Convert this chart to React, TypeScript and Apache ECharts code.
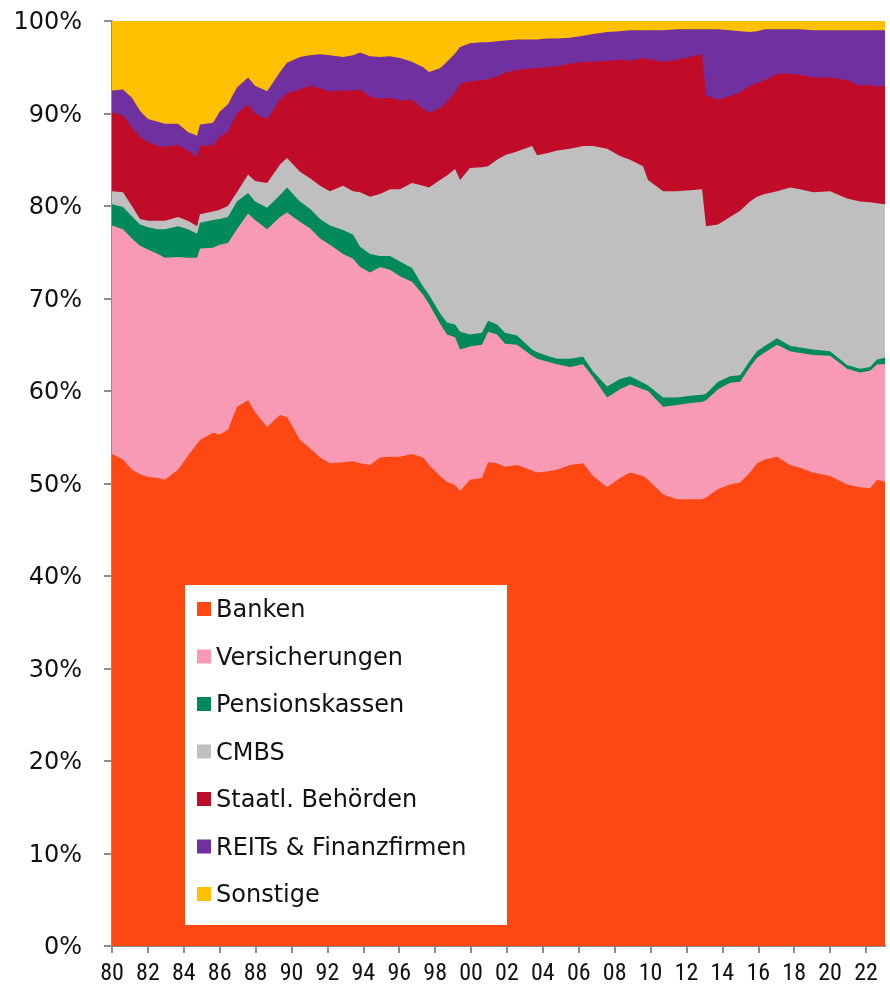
import React, { useEffect, useRef } from "react";
import * as echarts from "echarts";

// x positions (decimal years)
const years = [
  1980.0, 1980.61, 1981.11, 1981.56, 1982.0, 1982.56, 1982.95, 1983.68, 1984.23, 1984.74,
  1984.9, 1985.63, 1986.0, 1986.46, 1986.96, 1987.58, 1987.97, 1988.64, 1989.36, 1989.75,
  1990.47, 1991.03, 1991.59, 1992.14, 1992.87, 1993.43, 1993.82, 1994.37, 1994.93, 1995.49,
  1996.04, 1996.71, 1997.33, 1997.66, 1998.27, 1998.66, 1999.11, 1999.39, 1999.94, 2000.61,
  2000.95, 2001.45, 2001.89, 2002.56, 2003.4, 2003.68, 2004.23, 2004.79, 2005.52, 2006.24,
  2006.8, 2007.58, 2008.3, 2008.86, 2009.58, 2009.86, 2010.7, 2011.48, 2012.2, 2012.87,
  2013.09, 2013.76, 2014.43, 2014.99, 2015.54, 2015.93, 2016.38, 2017.05, 2017.77, 2018.33,
  2019.05, 2020.0, 2020.95, 2021.67, 2022.23, 2022.62, 2023.06,
];

const banken = [
  53.2, 52.6, 51.5, 51.0, 50.7, 50.6, 50.4, 51.5, 53.0, 54.3,
  54.7, 55.5, 55.3, 55.8, 58.3, 59.0, 57.7, 56.1, 57.4, 57.2,
  54.7, 53.8, 52.8, 52.2, 52.3, 52.4, 52.2, 52.0, 52.8, 52.9,
  52.9, 53.2, 52.8, 52.0, 50.8, 50.2, 49.8, 49.2, 50.4, 50.6,
  52.3, 52.2, 51.8, 52.0, 51.4, 51.2, 51.3, 51.5, 52.0, 52.2,
  50.8, 49.6, 50.6, 51.2, 50.8, 50.4, 48.8, 48.3, 48.3, 48.3,
  48.5, 49.4, 49.9, 50.1, 51.2, 52.2, 52.6, 52.9, 52.0, 51.7,
  51.2, 50.8, 49.9, 49.6, 49.5, 50.4, 50.2,
];

const versicherungen = [
  24.7, 24.9, 25.0, 24.7, 24.6, 24.2, 24.0, 23.0, 21.4, 20.1,
  20.7, 20.0, 20.5, 20.2, 19.2, 20.2, 20.8, 21.4, 21.4, 22.1,
  23.6, 23.8, 23.7, 23.6, 22.5, 21.9, 21.2, 20.8, 20.6, 20.2,
  19.5, 18.6, 17.6, 17.4, 16.5, 15.9, 16.0, 15.3, 14.4, 14.4,
  14.1, 13.9, 13.3, 13.0, 12.4, 12.3, 11.9, 11.4, 10.6, 10.7,
  10.7, 9.7, 9.6, 9.5, 9.4, 9.6, 9.5, 10.2, 10.4, 10.5,
  10.5, 10.8, 11.0, 10.9, 11.4, 11.4, 11.6, 12.1, 12.3, 12.4,
  12.7, 13.0, 12.5, 12.4, 12.7, 12.5, 12.7,
];

const pensionskassen = [
  2.3, 2.4, 2.4, 2.3, 2.4, 2.7, 3.1, 3.3, 3.1, 2.6,
  2.8, 3.0, 2.8, 2.8, 3.0, 2.2, 2.0, 2.3, 2.4, 2.7,
  2.2, 2.1, 2.1, 2.1, 2.6, 2.6, 2.2, 2.0, 1.2, 1.5,
  1.6, 1.5, 0.9, 1.0, 1.1, 1.3, 1.4, 1.9, 1.3, 1.3,
  1.2, 1.1, 1.2, 1.0, 0.7, 0.7, 0.6, 0.6, 0.9, 0.8,
  0.6, 1.2, 1.1, 0.9, 0.7, 0.6, 1.0, 0.8, 0.8, 0.8,
  0.7, 0.8, 0.7, 0.7, 0.7, 0.7, 0.7, 0.7, 0.6, 0.6,
  0.6, 0.5, 0.4, 0.4, 0.4, 0.5, 0.7,
];

const cmbs = [
  1.4, 1.6, 1.1, 0.6, 0.7, 0.9, 0.9, 1.0, 0.9, 0.8,
  0.9, 0.9, 1.0, 1.2, 1.0, 2.0, 2.2, 2.7, 3.3, 3.2,
  3.2, 3.3, 3.6, 3.7, 4.8, 4.7, 5.9, 6.2, 6.7, 7.2,
  7.8, 9.2, 10.9, 11.6, 14.4, 15.9, 16.8, 16.4, 18.0, 17.9,
  16.7, 17.8, 19.2, 19.9, 22.0, 21.3, 21.9, 22.5, 22.7, 22.8,
  24.4, 25.7, 24.1, 23.4, 23.4, 22.2, 22.3, 22.3, 22.2, 22.2,
  18.1, 17.0, 17.2, 17.8, 17.2, 16.7, 16.4, 15.9, 17.1, 17.1,
  17.0, 17.3, 18.0, 18.1, 17.8, 16.9, 16.6,
];

const staatl = [
  8.5, 8.3, 8.5, 8.9, 8.5, 8.1, 8.0, 7.8, 7.6, 7.5,
  7.4, 7.2, 7.9, 8.0, 8.5, 7.6, 7.3, 6.9, 7.0, 7.0,
  8.9, 10.0, 10.5, 10.8, 10.3, 10.9, 11.1, 10.8, 10.3, 9.9,
  9.6, 9.0, 8.3, 8.1, 7.8, 8.0, 8.3, 10.4, 9.4, 9.4,
  9.4, 9.0, 8.9, 8.8, 8.4, 9.4, 9.3, 9.1, 9.2, 9.1,
  9.1, 9.5, 10.4, 10.7, 11.7, 13.1, 14.0, 14.2, 14.4, 14.6,
  14.2, 13.5, 13.1, 12.8, 12.5, 12.3, 12.3, 12.7, 12.3, 12.4,
  12.4, 12.3, 12.8, 12.5, 12.7, 12.6, 12.8,
];

const reits = [
  2.4, 2.8, 3.2, 2.8, 2.5, 2.6, 2.5, 2.3, 2.0, 2.3,
  2.3, 2.4, 2.7, 3.0, 2.8, 2.9, 3.0, 3.0, 3.0, 3.3,
  3.5, 3.3, 3.7, 3.9, 3.6, 3.8, 4.0, 4.4, 4.5, 4.5,
  4.6, 4.1, 4.5, 4.4, 4.3, 4.3, 4.2, 4.0, 4.1, 4.1,
  4.0, 3.8, 3.5, 3.3, 3.1, 3.1, 3.1, 3.0, 2.8, 2.8,
  3.0, 3.1, 3.1, 3.3, 3.0, 3.1, 3.4, 3.3, 3.0, 2.7,
  7.1, 7.6, 7.1, 6.6, 5.8, 5.6, 5.5, 4.8, 4.8, 4.9,
  5.1, 5.1, 5.4, 6.0, 5.9, 6.1, 6.0,
];

const sonstige = [
  7.5, 7.4, 8.3, 9.7, 10.6, 10.9, 11.1, 11.1, 12.0, 12.4,
  11.2, 11.0, 9.8, 9.0, 7.2, 6.1, 7.0, 7.6, 5.5, 4.5,
  3.9, 3.7, 3.6, 3.7, 3.9, 3.7, 3.6, 3.8, 3.9, 3.8,
  4.0, 4.4, 5.0, 5.5, 5.1, 4.4, 3.5, 2.8, 2.4, 2.3,
  2.3, 2.2, 2.1, 2.0, 2.0, 2.0, 1.9, 1.9, 1.8, 1.6,
  1.4, 1.2, 1.1, 1.0, 1.0, 1.0, 1.0, 0.9, 0.9, 0.9,
  0.9, 0.9, 1.0, 1.1, 1.2, 1.1, 0.9, 0.9, 0.9, 0.9,
  1.0, 1.0, 1.0, 1.0, 1.0, 1.0, 1.0,
];

const seriesNames = [
  "Banken",
  "Versicherungen",
  "Pensionskassen",
  "CMBS",
  "Staatl. Behörden",
  "REITs & Finanzfirmen",
  "Sonstige",
];
const seriesValues = [banken, versicherungen, pensionskassen, cmbs, staatl, reits, sonstige];
const colors = ["#FF4713", "#F89AB3", "#008A5A", "#BFBFBF", "#C00B29", "#7030A0", "#FFC000"];

const xTickYears = [
  1980, 1982, 1984, 1986, 1988, 1990, 1992, 1994, 1996, 1998, 2000, 2002, 2004, 2006,
  2008, 2010, 2012, 2014, 2016, 2018, 2020, 2022,
];

export default function App() {
  const ref = useRef<HTMLDivElement>(null);

  useEffect(() => {
    if (!ref.current) return;
    const chart = echarts.init(ref.current, null, { renderer: "svg" });
    const axisColor = "#8C8C8C";

    // 100% stacked: cumulative totals per point, each area filled down to 0,
    // lower layers drawn above the higher ones.
    const running = years.map(() => 0);
    const series = seriesNames.map((name, i) => {
      const data = years.map((y, k) => {
        running[k] += seriesValues[i][k];
        return [y, Math.round(running[k] * 100) / 100];
      });
      return {
        name,
        type: "line",
        z: 3 + (seriesNames.length - i),
        symbol: "none",
        showSymbol: false,
        lineStyle: { width: 0 },
        areaStyle: { color: colors[i], opacity: 1, origin: "start" },
        itemStyle: { color: colors[i] },
        emphasis: { disabled: true },
        data,
      };
    });

    chart.setOption({
      animation: false,
      color: colors,
      grid: { left: 112, right: 5, top: 21, bottom: 41, containLabel: false },
      xAxis: {
        type: "value",
        min: 1980,
        max: 2023.06,
        interval: 2,
        splitLine: { show: false },
        axisLine: { show: true, lineStyle: { color: axisColor, width: 2 } },
        axisTick: {
          show: true,
          length: 7,
          lineStyle: { color: axisColor, width: 2 },
          customValues: xTickYears,
        },
        axisLabel: {
          customValues: xTickYears,
          margin: 14,
          color: "#111",
          fontSize: 24,
          fontFamily: "'Liberation Sans Narrow', 'Roboto Condensed', Roboto, sans-serif",
          formatter: (v: number) => String(Math.round(v) % 100).padStart(2, "0"),
        },
      },
      yAxis: {
        type: "value",
        min: 0,
        max: 100,
        interval: 10,
        splitLine: { show: false },
        axisLine: { show: true, lineStyle: { color: axisColor, width: 2 } },
        axisTick: { show: true, length: 8, lineStyle: { color: axisColor, width: 2 } },
        axisLabel: {
          margin: 30,
          color: "#111",
          fontSize: 24,
          fontFamily: "'DejaVu Sans', sans-serif",
          formatter: "{value}%",
        },
      },
      legend: {
        show: true,
        orient: "vertical",
        left: 197,
        top: 595,
        padding: 0,
        itemGap: 19.5,
        itemWidth: 14,
        itemHeight: 14,
        icon: "rect",
        z: 20,
        selectedMode: false,
        data: seriesNames,
        textStyle: {
          color: "#111",
          fontSize: 24,
          lineHeight: 28,
          fontFamily: "'DejaVu Sans', sans-serif",
        },
      },
      graphic: [
        {
          type: "rect",
          z: 15,
          shape: { x: 185, y: 585, width: 322, height: 340 },
          style: { fill: "#FFFFFF" },
        },
      ],
      series,
    });

    return () => chart.dispose();
  }, []);

  return (
    <div
      ref={ref}
      style={{ position: "fixed", left: 0, top: 0, width: 890, height: 987 }}
    />
  );
}
